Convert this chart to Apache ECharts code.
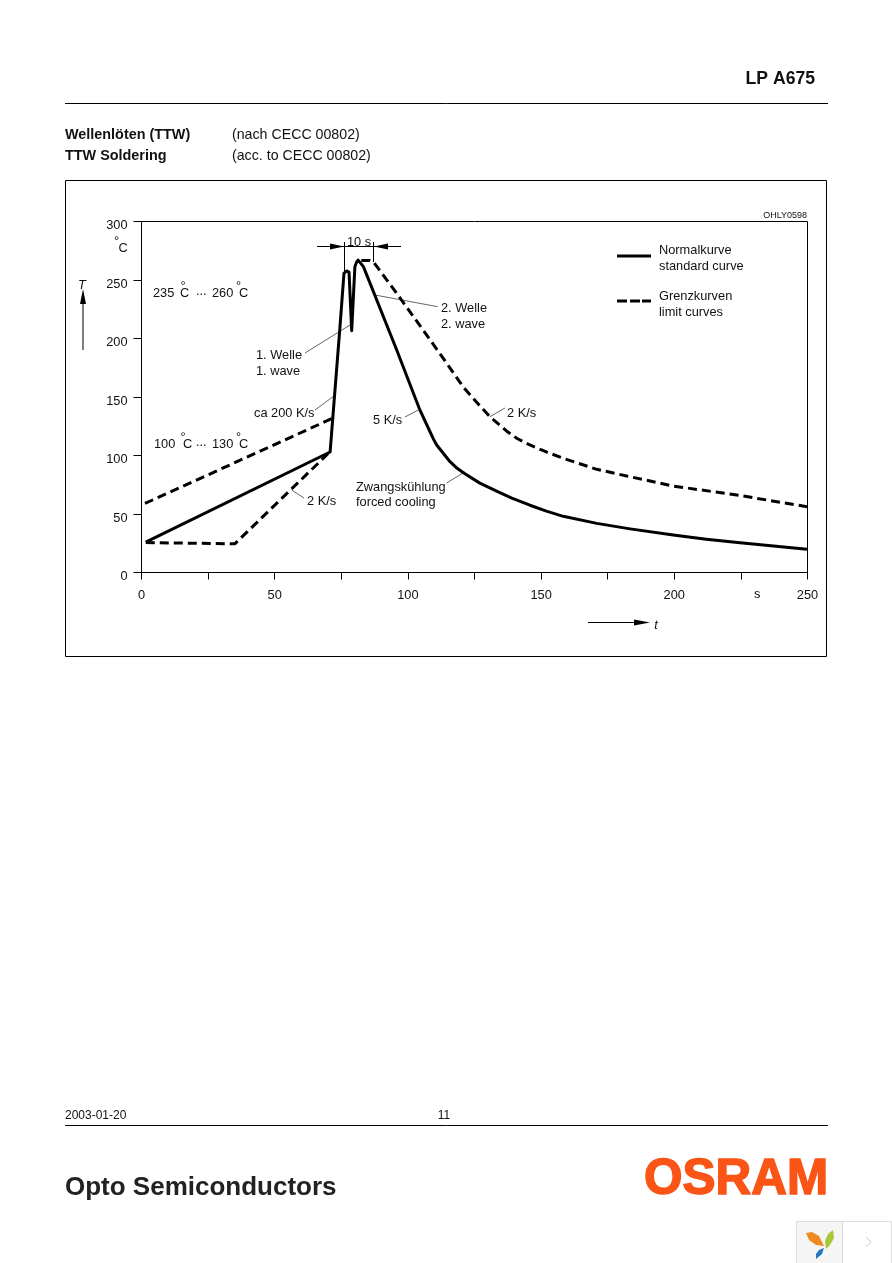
<!DOCTYPE html>
<html><head><meta charset="utf-8">
<style>html,body{margin:0;padding:0;background:#fff}#c{width:892px;height:1263px}</style>
<script src="https://cdn.jsdelivr.net/npm/echarts@6/dist/echarts.min.js"></script>
</head><body><div id="c"></div>
<script>
const xTicks = [0,25,50,75,100,125,150,175,200,225,250];
const xTickLabels = {0:'0',50:'50',100:'100',150:'150',200:'200',250:'250'};
const yTicks = [0,50,100,150,200,250,300];
const standardCurve = [[1.6,26],[70.8,103],[74.5,210],[76,255.7],[76.5,257.3],[77,257.7],[77.9,256.8],[78.9,206.7],[80.1,261.4],[80.7,265],[81.3,267],[82,266.7],[83.3,261.4],[95.8,190.2],[104.5,138.9],[108.3,120.3],[109.6,114],[110.8,109],[113.2,102.1],[115.8,94.7],[118,90],[120.8,85.3],[127,76.4],[133.3,69.5],[139,63.5],[145.8,57.5],[152,52.5],[158.3,48],[170.9,42],[183.4,37.3],[199.6,32],[212,28.5],[224.7,25.5],[249.8,19.8]];
const limitLower = [[1.6,25.6],[35,24.5],[70,101.5]];
const limitUpperRise = [[1.3,59],[71.9,132]];
const limitUpperFall = [[82.5,266.7],[85.7,266.7],[87,265.6],[95.8,238.6],[108.3,199],[114.5,179],[120.8,158.5],[126,145],[130.8,133.2],[137.1,120.8],[141,114.5],[145.8,109],[152,103],[158.3,97.6],[170.9,88.2],[182.1,82.5],[199.6,73.9],[224.7,65.8],[249.8,56.2]];

const G = {l:141.5,t:221.5,w:666,h:351};
const FONT='"Liberation Sans",Arial,sans-serif';
function T(text,x,y,o={}){return {type:'text',silent:true,style:Object.assign({text,x,y,fill:'#111',font:`${o.b?'bold ':''}${o.i?'italic ':''}${o.s||12.8}px ${FONT}`,textAlign:o.a||'left',textVerticalAlign:'middle'},o.fill?{fill:o.fill}:{},o.stroke?{stroke:o.stroke,lineWidth:o.lw||1}:{})};}
function L(x1,y1,x2,y2,w=1,c='#000'){return {type:'line',silent:true,shape:{x1,y1,x2,y2},style:{stroke:c,lineWidth:w}};}
function P(points,c='#000'){return {type:'polygon',silent:true,shape:{points},style:{fill:c}};}
const lead='#666';
const graphics=[
 T('LP A675',815,79,{b:1,s:17.6,a:'right'}),
 L(65,103.5,828,103.5),
 T('Wellenlöten (TTW)',65,135,{b:1,s:14.4}),
 T('TTW Soldering',65,156,{b:1,s:14.4}),
 T('(nach CECC 00802)',232,135,{s:14.2}),
 T('(acc. to CECC 00802)',232,156,{s:14.2}),
 {type:'rect',silent:true,shape:{x:65.5,y:180.5,width:761,height:476},style:{fill:'none',stroke:'#000',lineWidth:1}},
 T('OHLY0598',807,215.5,{s:9,a:'right'}),
 T('°',116.5,241,{a:'center'}),T('C',123,248,{a:'center'}),
 T('T',82,285,{i:1,a:'center'}),
 L(83,350,83,300),P([[83,289],[80,304],[86,304]]),
 T('s',754,594),
 L(588,622.5,636,622.5),P([[650,622.5],[634,619.5],[634,625.5]]),
 T('t',656,625,{i:1,a:'center'}),
 L(317,246.5,401,246.5),
 L(344.5,242,344.5,272),L(373.5,242,373.5,262),
 P([[344,246.5],[330,243.5],[330,249.5]]),P([[374,246.5],[388,243.5],[388,249.5]]),
 T('10 s',359,242,{a:'center'}),
 L(375,295,437.7,306.7,1,lead),L(350,325,305,353,1,lead),L(333,396.7,315,410,1,lead),
 L(420,409,405,417,1,lead),L(291.7,490,304,498,1,lead),L(465,471.7,446.7,483,1,lead),L(490,416.7,505,408,1,lead),
 T('235',153,293),T('°',180.5,286),T('C',180,293),T('...',196,291),T('260',212,293),T('°',236,286),T('C',239,293),
 T('100',154,444),T('°',180.5,437),T('C',183,444),T('...',196,442),T('130',212,444),T('°',236,437),T('C',239,444),
 T('1. Welle',256,355),T('1. wave',256,371),
 T('ca 200 K/s',254,413),T('5 K/s',373,420),T('2 K/s',307,501),
 T('Zwangskühlung',356,487),T('forced cooling',356,502),
 T('2. Welle',441,308),T('2. wave',441,324),T('2 K/s',507,413),
 L(617,256,651,256,3),
 T('Normalkurve',659,250),T('standard curve',659,266),
 L(617,301,627,301,3),L(630,301,640,301,3),L(642,301,651,301,3),
 T('Grenzkurven',659,296),T('limit curves',659,312),
 T('2003-01-20',65,1115.5,{s:12}),T('11',444,1115.5,{s:12,a:'center'}),
 L(65,1125.5,828,1125.5),
 T('Opto Semiconductors',65,1188,{b:1,s:26,fill:'#222'}),
 T('OSRAM',736,1180,{b:1,s:49.5,a:'center',fill:'#fa5417',stroke:'#fa5417',lw:1.5}),
 {type:'rect',silent:true,shape:{x:796.5,y:1221.5,width:46,height:42},style:{fill:'#f5f5f5',stroke:'#ddd',lineWidth:1}},
 {type:'rect',silent:true,shape:{x:842.5,y:1221.5,width:49,height:42},style:{fill:'#fff',stroke:'#ddd',lineWidth:1}},
 P([[806,1233],[812,1232],[819,1236],[824,1246],[816,1245],[809,1240]],'#ee8a22'),
 P([[833,1230],[834,1238],[830,1245],[826,1249],[825,1241],[828,1234]],'#a8c83a'),
 P([[824,1248],[822,1254],[816,1259],[816,1254],[819,1250]],'#1f78c0'),
 {type:'polyline',silent:true,shape:{points:[[866,1237],[871,1242],[866,1247]]},style:{stroke:'#c8c8c8',fill:'none',lineWidth:1}}
];
const axisLine={lineStyle:{color:'#000',width:1}};
const lab={color:'#111',fontFamily:'Liberation Sans',fontSize:12.8};
const base={type:'line',symbol:'none',smooth:false,silent:true,animation:false,clip:false};
const chart=echarts.init(document.getElementById('c'),null,{renderer:'canvas'});
chart.setOption({
 animation:false,backgroundColor:'#fff',
 grid:{left:G.l,top:G.t,width:G.w,height:G.h,show:true,borderColor:'#000',borderWidth:1,backgroundColor:'transparent'},
 xAxis:{type:'value',min:xTicks[0],max:xTicks[xTicks.length-1],interval:25,splitLine:{show:false},
  axisLine:Object.assign({onZero:false},axisLine),axisTick:{length:7,lineStyle:{color:'#000'}},
  axisLabel:Object.assign({},lab,{margin:16,showMinLabel:true,showMaxLabel:true,hideOverlap:false,formatter:v=>xTickLabels[v]||''})},
 yAxis:{type:'value',min:yTicks[0],max:yTicks[yTicks.length-1],interval:50,splitLine:{show:false},
  axisLine:Object.assign({onZero:false},axisLine),axisTick:{length:8,lineStyle:{color:'#000'}},
  axisLabel:Object.assign({},lab,{margin:14,showMinLabel:true,showMaxLabel:true,verticalAlign:'top',lineHeight:8})},
 series:[
  Object.assign({},base,{name:'Normalkurve',data:standardCurve,lineStyle:{color:'#000',width:3,join:'round'}}),
  Object.assign({},base,{name:'Grenzkurven lower',data:limitLower,lineStyle:{color:'#000',width:3,type:[9,5]}}),
  Object.assign({},base,{name:'Grenzkurven upper rise',data:limitUpperRise,lineStyle:{color:'#000',width:3,type:[9,5]}}),
  Object.assign({},base,{name:'Grenzkurven upper fall',data:limitUpperFall,lineStyle:{color:'#000',width:3,type:[9,5]}})
 ],
 graphic:graphics
});
</script></body></html>
